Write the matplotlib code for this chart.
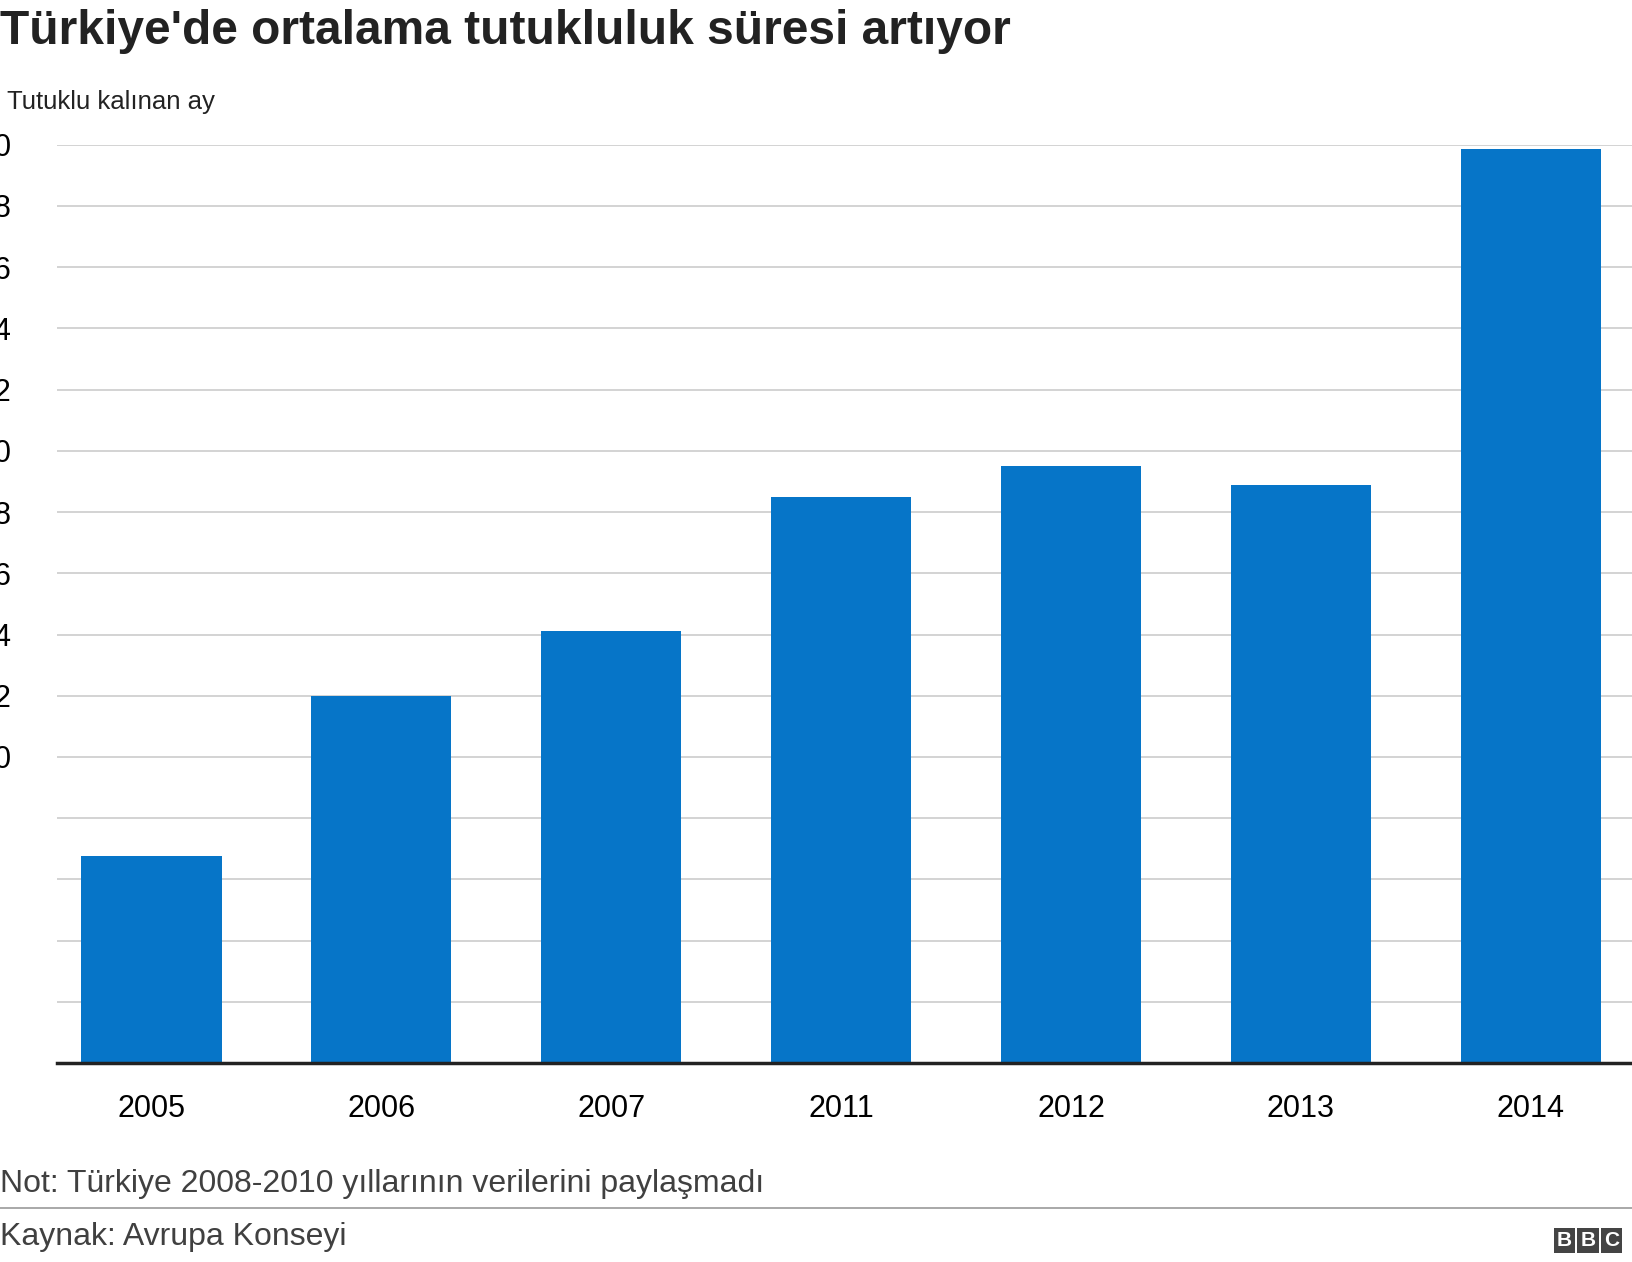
import matplotlib
matplotlib.use("Agg")
import matplotlib.pyplot as plt

years = ["2005", "2006", "2007", "2011", "2012", "2013", "2014"]
values = [6.75, 12.0, 14.1, 18.5, 19.5, 18.9, 29.85]
yticks = list(range(0, 31, 2))

plt.rcParams['font.family'] = ['Liberation Sans', 'DejaVu Sans']
fig = plt.figure(figsize=(16.32, 12.62), dpi=100)
ax = fig.add_axes([0.035, 0.1576, 0.965, 0.7277])
x = range(len(years))
ax.bar(x, values, width=0.61, color="#0675c8", zorder=2)
ax.set_xlim(-0.41, 6.44)
ax.set_ylim(0, 30)
ax.set_yticks(yticks)
ax.set_xticks(list(x))
ax.set_xticklabels(years, fontsize=22)
ax.tick_params(axis='y', labelsize=22, length=0, pad=57)
for lbl in ax.get_yticklabels():
    lbl.set_horizontalalignment('left')
ax.tick_params(axis='x', length=0, pad=22)
ax.grid(axis='y', color="#cccccc", linewidth=1.2, zorder=0)
for s in ["top", "right", "left"]:
    ax.spines[s].set_visible(False)
ax.spines["bottom"].set_linewidth(2.5)
ax.spines["bottom"].set_color("#222222")
ax.spines["bottom"].set_zorder(3)

fig.text(0.0, 0.993, "Türkiye'de ortalama tutukluluk süresi artıyor", fontsize=34.5,
         fontweight='bold', va='top', ha='left', color="#222222")
fig.text(0.004, 0.919, "Tutuklu kalınan ay", fontsize=18.5, va='center', ha='left', color="#222222")
fig.text(0.0, 0.062, "Not: Türkiye 2008-2010 yıllarının verilerini paylaşmadı", fontsize=23,
         va='center', ha='left', color="#404040")
fig.add_artist(plt.Line2D([0, 1], [0.043, 0.043], color="#999999", linewidth=1.2))
fig.text(0.0, 0.02, "Kaynak: Avrupa Konseyi", fontsize=23, va='center', ha='left', color="#404040")
for i, ch in enumerate("BBC"):
    fig.text(0.9585 + i * 0.0145, 0.017, ch, fontsize=15, fontweight='bold', color='white',
             ha='center', va='center',
             bbox=dict(boxstyle='square,pad=0.15', fc='#444444', ec='none'))
fig.savefig("out.png", dpi=100)
